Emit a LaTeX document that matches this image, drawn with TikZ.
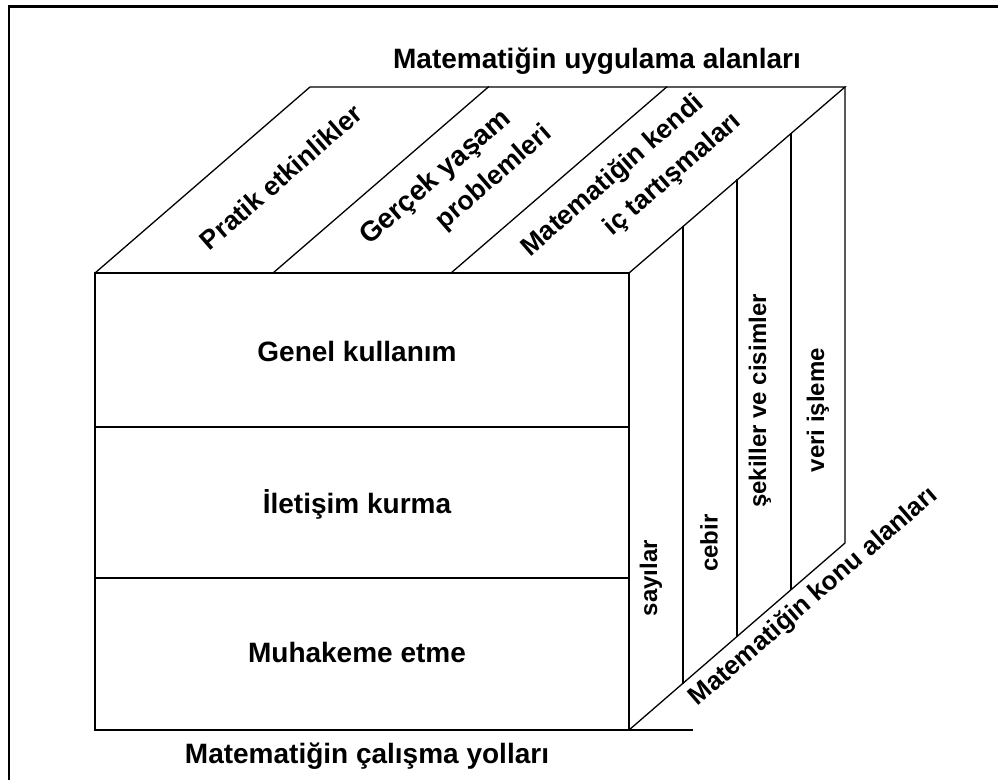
\documentclass[tikz,border=0pt]{standalone}
\usepackage{fontspec}
\setmainfont{Liberation Sans}
\usetikzlibrary{calc}
\begin{document}
\begin{tikzpicture}[x=1pt,y=-1pt,
  edge/.style={line width=1.3pt, line join=miter, line cap=rect},
  frame/.style={line width=2.5pt},
  lbl/.style={font=\bfseries\fontsize{28}{32}\selectfont, inner sep=0pt},
  toplbl/.style={font=\bfseries\fontsize{26.5}{30}\selectfont, rotate=41, inner sep=0pt},
  biglbl/.style={toplbl, font=\bfseries\fontsize{28}{32}\selectfont},
  vlbl/.style={font=\bfseries\fontsize{24}{28}\selectfont, rotate=90, inner sep=0pt}]
\useasboundingbox (0,0) rectangle (998,780);
% frame (only top and left sides visible)
\coordinate (fb) at (9,780);
\coordinate (fc) at (9,6.5);
\coordinate (fr) at (998,6.5);
\draw[frame] (fb) -- (fc) -- (fr);
% cube corners
\coordinate (A) at (95,273);   % front top left
\coordinate (B) at (629,273);  % front top right
\coordinate (C) at (629,730);  % front bottom right
\coordinate (D) at (95,730);   % front bottom left
\coordinate (E) at (310,87);   % back top left
\coordinate (F) at (845,87);   % back top right
\coordinate (G) at (845,543);  % back bottom right
\coordinate (Cx) at (692,730); % bottom line extension
% front face
\draw[edge] (A) -- (B) -- (C) -- (D) -- cycle;
\coordinate (r1l) at (95,427);  \coordinate (r1r) at (629,427);
\coordinate (r2l) at (95,578);  \coordinate (r2r) at (629,578);
\draw[edge] (r1l) -- (r1r);
\draw[edge] (r2l) -- (r2r);
\draw[edge] (C) -- (Cx);
% top face
\draw[edge] (A) -- (E) -- (F) -- (B);
\foreach \k in {1,2}{
  \draw[edge] ($(A)!\k/3!(B)$) -- ($(E)!\k/3!(F)$);
}
% right face
\draw[edge] (F) -- (G) -- (C);
\foreach \k in {1,2,3}{
  \draw[edge] ($(B)!\k/4!(F)$) -- ($(C)!\k/4!(G)$);
}
% labels
\node[lbl] (tt) at (597,61) {Matematiğin uygulama alanları};
\node[lbl, anchor=base] (bt) at (367,763) {Matematiğin çalışma yolları};
\node[lbl, anchor=base] (w1) at (357,361) {Genel kullanım};
\node[lbl, anchor=base] (w2) at (357,513) {İletişim kurma};
\node[lbl, anchor=base] (w3) at (357,662) {Muhakeme etme};
\node[toplbl] (u1) at (281,177) {Pratik etkinlikler};
\node[biglbl] (u2a) at (436,178) {Gerçek yaşam};
\node[toplbl] (u2b) at (494,178) {problemleri};
\node[toplbl] (u3a) at (613,176) {Matematiğin kendi};
\node[toplbl] (u3b) at (673,175) {iç tartışmaları};
\node[toplbl, font=\bfseries\fontsize{26}{30}\selectfont] (ka) at (814,597) {Matematiğin konu alanları};
\node[vlbl] (k1) at (651,578) {sayılar};
\node[vlbl] (k2) at (709,543) {cebir};
\node[vlbl] (k3) at (760,401) {şekiller ve cisimler};
\node[vlbl] (k4) at (818,410) {veri işleme};
\end{tikzpicture}
\end{document}
